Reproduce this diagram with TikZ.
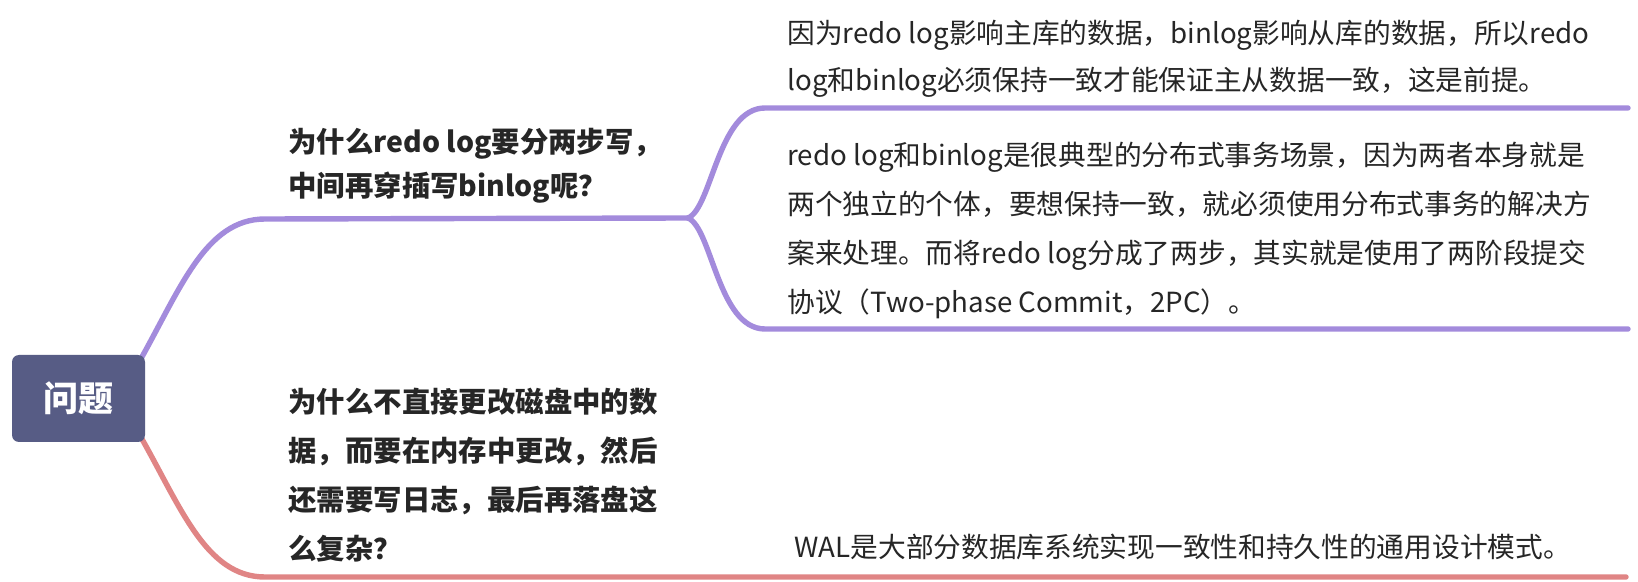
\documentclass[tikz,border=0pt]{standalone}
\usepackage{fontspec}
\setmainfont{Noto Sans CJK SC}
\definecolor{rootfill}{HTML}{575C85}
\definecolor{purpleline}{HTML}{A38BDC}
\definecolor{redline}{HTML}{E08585}
\definecolor{txt}{HTML}{262626}
\begin{document}
\begin{tikzpicture}[x=0.5pt,y=-0.5pt,
  branchP/.style={draw=purpleline,line width=2.7pt,line cap=round},
  branchR/.style={draw=redline,line width=2.7pt,line cap=round},
  rootbox/.style={fill=rootfill,rounded corners=3.5pt,minimum width=66.5pt,minimum height=43.5pt,inner sep=0pt,text=white,font=\bfseries\fontsize{17.5pt}{20pt}\selectfont},
  question/.style={anchor=base west,inner sep=0pt,align=left,text=txt},
  answer/.style={anchor=base west,inner sep=0pt,align=left,text=txt},
]
\useasboundingbox (0,0) rectangle (1638,582);
\fill[white] (0,0) rectangle (1638,582);
% coordinates of connector joints
\coordinate (pS) at (138,364);
\coordinate (pE) at (265,219);
\coordinate (fork) at (688,218);
\coordinate (u1) at (765,108);
\coordinate (uEnd) at (1628,108);
\coordinate (l1) at (765,329);
\coordinate (lEnd) at (1628,329);
\coordinate (rS) at (138,432);
\coordinate (rE) at (265,577);
\coordinate (rEnd) at (1626,577);
% connectors
\draw[branchP] (pS) .. controls (180,290) and (205,219) .. (pE) -- (fork);
\draw[branchP] (fork) .. controls (712,208) and (718,108) .. (u1) -- (uEnd);
\draw[branchP] (fork) .. controls (712,228) and (718,329) .. (l1) -- (lEnd);
\draw[branchR] (rS) .. controls (180,505) and (205,577) .. (rE) -- (rEnd);
% root
\node[rootbox] (root) at (78.5,398.5) {问题};
% questions (base anchor = baseline of the last line)
\node[question,font=\bfseries\fontsize{14.2pt}{22pt}\selectfont] (q1) at (288,197)
  {为什么redo log要分两步写，\\中间再穿插写binlog呢？};
\node[question,font=\bfseries\fontsize{14.2pt}{24.5pt}\selectfont] (q2) at (288,559)
  {为什么不直接更改磁盘中的数\\据，而要在内存中更改，然后\\还需要写日志，最后再落盘这\\么复杂？};
% answers
\node[answer,font=\fontsize{13.85pt}{23.5pt}\selectfont] (a1) at (787,90.5)
  {因为redo log影响主库的数据，binlog影响从库的数据，所以redo\\log和binlog必须保持一致才能保证主从数据一致，这是前提。};
\node[answer,font=\fontsize{13.85pt}{24.5pt}\selectfont] (a2) at (787,313)
  {redo log和binlog是很典型的分布式事务场景，因为两者本身就是\\两个独立的个体，要想保持一致，就必须使用分布式事务的解决方\\案来处理。而将redo log分成了两步，其实就是使用了两阶段提交\\协议（Two-phase Commit，2PC）。};
\node[answer,font=\fontsize{13.85pt}{24.5pt}\selectfont] (a3) at (794,557.5)
  {WAL是大部分数据库系统实现一致性和持久性的通用设计模式。};
\end{tikzpicture}
\end{document}
